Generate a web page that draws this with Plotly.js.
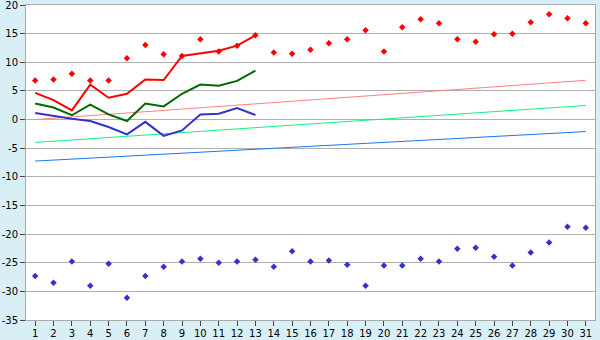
<!DOCTYPE html>
<html><head><meta charset="utf-8">
<script src="https://cdn.plot.ly/plotly-3.0.1.min.js"></script>
<style>body{margin:0;padding:0;background:#d9eff6}#chart{width:600px;height:340px}</style>
</head><body><div id="chart"></div>
<script>
const days = Array.from({length:31},(_,i)=>i+1);
const daysShort = days.slice(0,13);
const redMarkers = [6.8,7.0,8.0,6.8,6.8,10.7,13.0,11.4,11.1,14.0,11.9,12.9,14.7,11.7,11.5,12.2,13.3,14.0,15.6,11.9,16.1,17.5,16.8,14.0,13.6,14.9,15.0,17.0,18.4,17.7,16.8];
const blueMarkers = [-27.3,-28.5,-24.8,-29.0,-25.2,-31.1,-27.3,-25.7,-24.8,-24.3,-25.0,-24.8,-24.5,-25.7,-23.0,-24.8,-24.6,-25.35,-29.0,-25.5,-25.5,-24.3,-24.8,-22.55,-22.4,-23.95,-25.5,-23.2,-21.45,-18.7,-18.9];
const redLine = [4.65,3.4,1.6,6.1,3.8,4.5,7.0,6.9,11.1,11.5,12.0,12.9,14.7];
const greenLine = [2.8,2.1,0.75,2.6,0.9,-0.25,2.8,2.3,4.5,6.1,5.9,6.75,8.55];
const blueLine = [1.15,0.6,0.15,-0.25,-1.3,-2.6,-0.4,-2.85,-1.9,0.9,1.0,2.0,0.8];
const trendX = [1,31];
const pinkTrend = [0.0,6.85];
const greenTrend = [-4.0,2.45];
const blueTrend = [-7.25,-2.1];
const yTicks = [20,15,10,5,0,-5,-10,-15,-20,-25,-30,-35];

const traces = [
  {x:trendX,y:pinkTrend,mode:'lines',line:{color:'#ff8080',width:1}},
  {x:trendX,y:greenTrend,mode:'lines',line:{color:'#10f080',width:1}},
  {x:trendX,y:blueTrend,mode:'lines',line:{color:'#1a78f0',width:1}},
  {x:daysShort,y:greenLine,mode:'lines',line:{color:'#006a00',width:2}},
  {x:daysShort,y:blueLine,mode:'lines',line:{color:'#3333cc',width:2}},
  {x:daysShort,y:redLine,mode:'lines',line:{color:'#ff0000',width:2}},
  {x:days,y:redMarkers,mode:'markers',marker:{symbol:'diamond',size:5,color:'#ff0000'}},
  {x:days,y:blueMarkers,mode:'markers',marker:{symbol:'diamond',size:5,color:'#3333cc'}}
];
const layout = {
  width:600,height:340,
  margin:{l:26,r:5,t:5,b:20},
  paper_bgcolor:'#d9eff6',plot_bgcolor:'#ffffff',
  showlegend:false,
  font:{family:'DejaVu Sans, Verdana, sans-serif',size:10,color:'#000'},
  xaxis:{range:[0.5,31.5],tickvals:days,ticktext:days.map(String),showgrid:false,zeroline:false,
    showline:true,linecolor:'#a8a8a8',linewidth:1,mirror:true,ticks:'outside',ticklen:5,tickcolor:'#444',
    ticklabelstandoff:-1,ticklabeloverflow:'allow',fixedrange:true},
  yaxis:{range:[-35,20],tickvals:yTicks,ticktext:yTicks.map(v=>String(v)),showgrid:true,gridcolor:'#b0b0b0',gridwidth:1,
    zeroline:false,showline:true,linecolor:'#a8a8a8',linewidth:1,mirror:true,ticks:'outside',ticklen:5,tickcolor:'#444',
    ticklabelstandoff:0,ticklabeloverflow:'allow',fixedrange:true}
};
Plotly.newPlot('chart',traces,layout,{staticPlot:true,displayModeBar:false});
</script></body></html>
